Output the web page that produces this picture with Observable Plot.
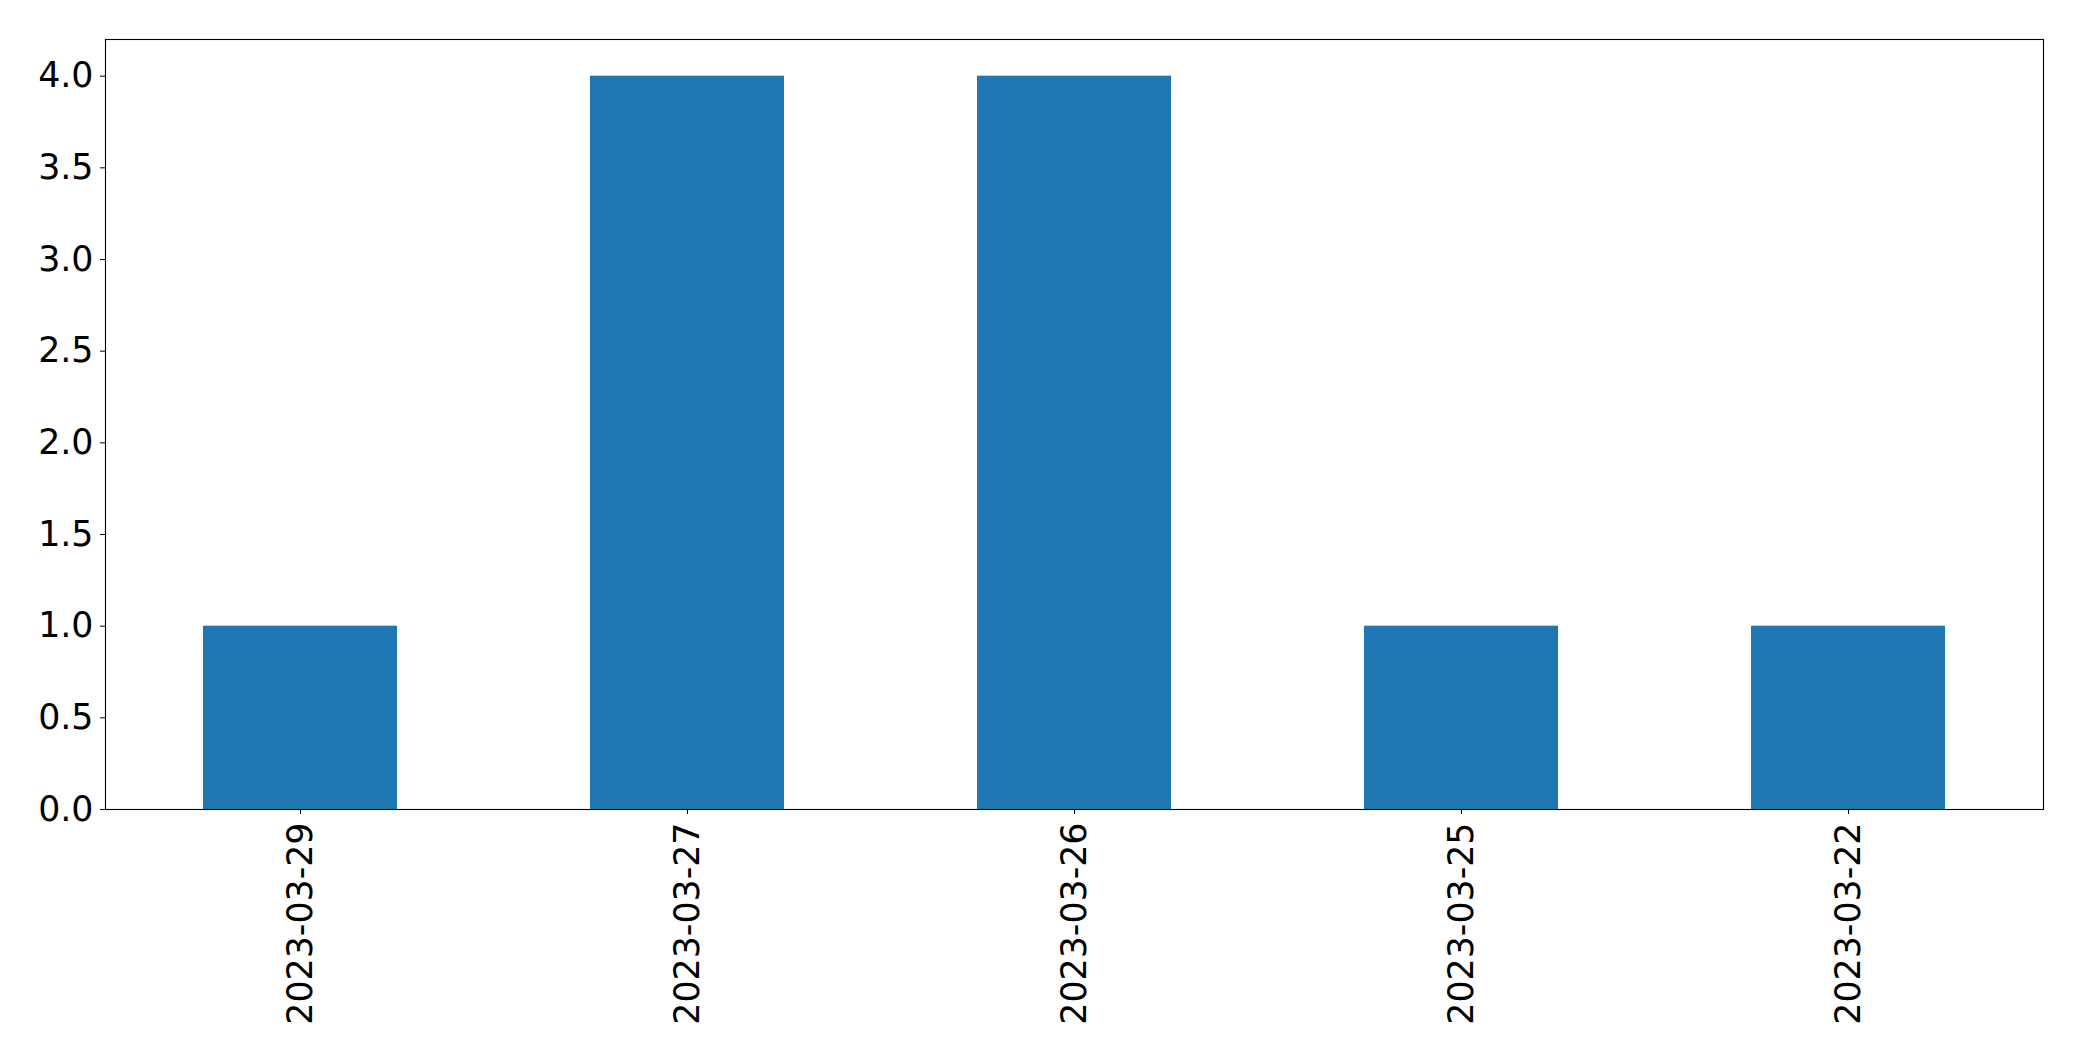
<!DOCTYPE html>
<html>
<head>
<meta charset="utf-8">
<script src="https://cdn.jsdelivr.net/npm/d3@7"></script>
<script src="https://cdn.jsdelivr.net/npm/@observablehq/plot@0.6"></script>
<style>
  html, body { margin: 0; padding: 0; background: white; }
  #chart svg { display: block; }
</style>
</head>
<body>
<div id="chart"></div>
<script>
const dates = ["2023-03-29", "2023-03-27", "2023-03-26", "2023-03-25", "2023-03-22"];
const counts = [1, 4, 4, 1, 1];
const yTicks = [0, 0.5, 1, 1.5, 2, 2.5, 3, 3.5, 4];

const data = dates.map((d, i) => ({date: d, count: counts[i]}));

const chart = Plot.plot({
  width: 2082,
  height: 1061,
  marginLeft: 105,
  marginRight: 39,
  marginTop: 39,
  marginBottom: 252,
  style: {fontFamily: "DejaVu Sans", fontSize: "34.8px", background: "white", color: "black", overflow: "visible"},
  x: {domain: dates, paddingInner: 0.5, paddingOuter: 0.25, label: null},
  y: {domain: [0, 4.2], label: null},
  marks: [
    Plot.barY(data, {x: "date", y: "count", fill: "#1f77b4"}),
    Plot.frame({stroke: "black", strokeWidth: 1.1}),
    Plot.axisY({ticks: yTicks, tickFormat: d3.format(".1f"), tickSize: 5, tickPadding: 7, fontSize: 34.8, label: null}),
    Plot.axisX({tickRotate: -90, tickSize: 5, tickPadding: 8, fontSize: 34.8, label: null})
  ]
});
document.getElementById("chart").appendChild(chart);
</script>
</body>
</html>
